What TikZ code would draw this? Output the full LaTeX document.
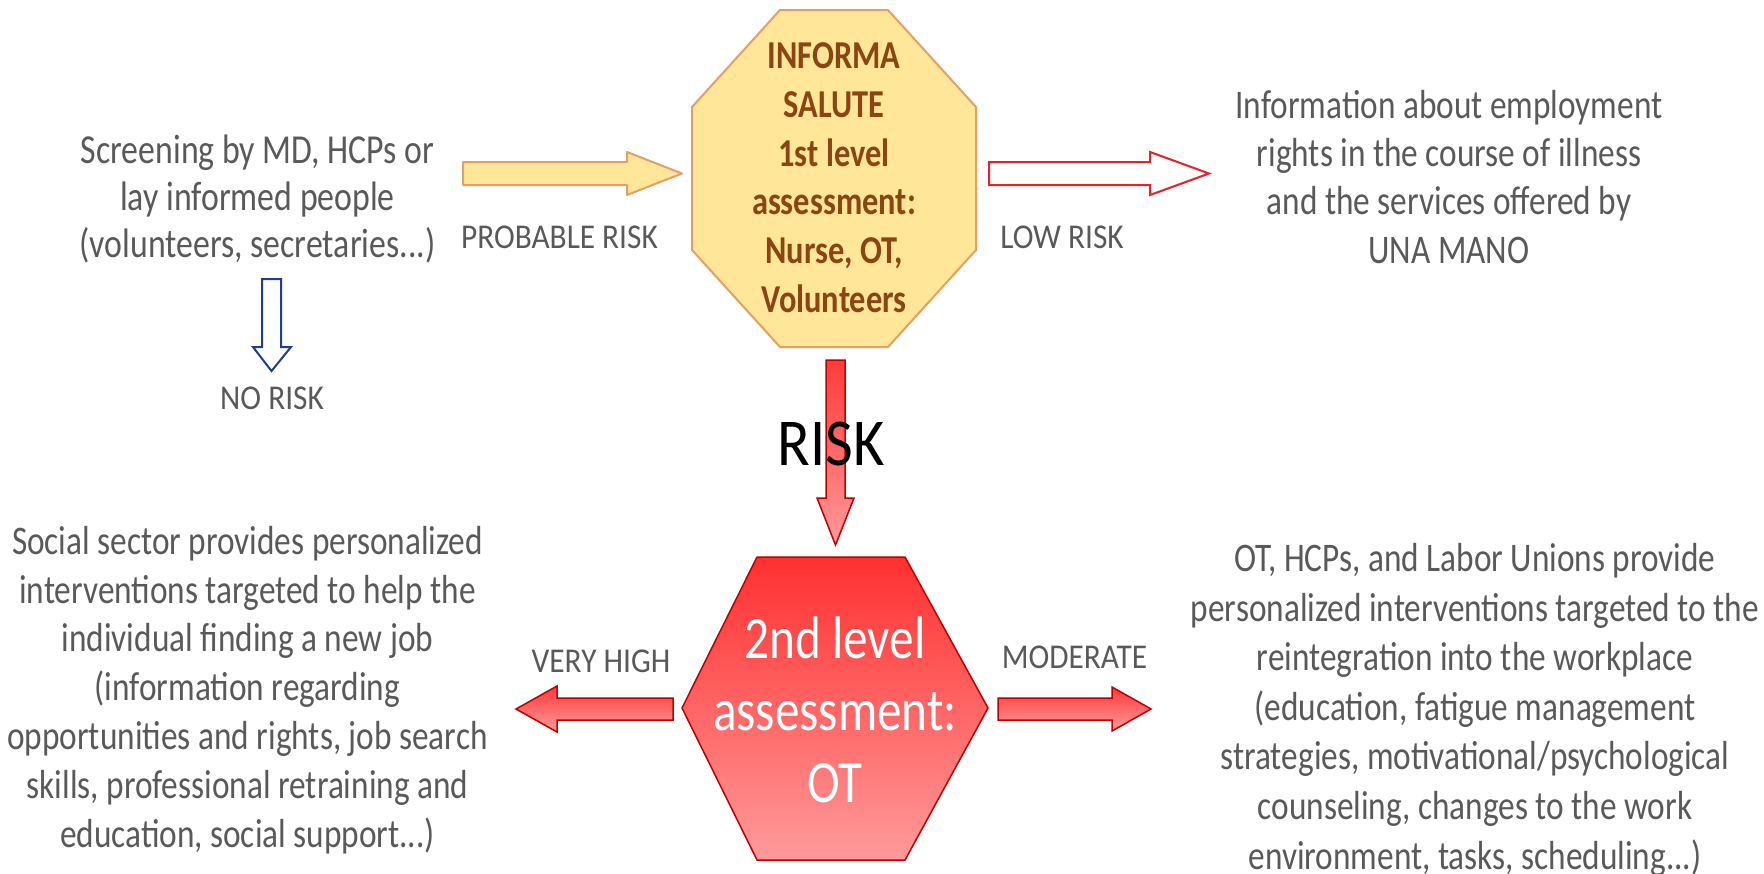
\documentclass[tikz,border=0pt]{standalone}
\usepackage{fontspec}
\setmainfont{Carlito}[FakeStretch=0.9]
\newfontfamily\tallfont{Carlito}[FakeStretch=0.82]
\definecolor{txtgray}{HTML}{595959}
\definecolor{octfill}{HTML}{FFE699}
\definecolor{octdraw}{HTML}{E3A062}
\definecolor{octtext}{HTML}{8A4513}
\definecolor{redtop}{HTML}{FF3030}
\definecolor{redbot}{HTML}{FF9A9A}
\definecolor{redline}{HTML}{C00000}
\definecolor{lowred}{HTML}{E8202A}
\definecolor{noblue}{HTML}{1F3E8C}
\tikzset{
  maintext/.style={anchor=base, align=center, inner sep=0pt, text=txtgray,
    font=\tallfont\fontsize{40.6}{48.8}\selectfont},
  lbl/.style={anchor=base, inner sep=0pt, text=txtgray, font=\fontsize{34.8}{40}\selectfont},
  yellowarrow/.style={fill=octfill, draw=octdraw, line width=2pt, line join=round},
  lowarrow/.style={fill=white, draw=lowred, line width=2pt},
  noarrow/.style={fill=white, draw=noblue, line width=2pt},
  redarrow/.style={top color=redtop!95!white, bottom color=redbot, draw=redline, line width=1.5pt},
}
\begin{document}
\begin{tikzpicture}[x=1pt,y=-1pt]
\useasboundingbox (0,0) rectangle (1764,873);
% octagon (1st level)
\draw[fill=octfill, draw=octdraw, line width=2pt]
  (780,10) -- (888,10) -- (976,107) -- (976,250) -- (888,347) -- (780,347) -- (692,250) -- (692,107) -- cycle;
\node[anchor=base, align=center, inner sep=0pt, text=octtext,
  font=\tallfont\fontsize{39.5}{48.8}\selectfont\bfseries] (first) at (834,312.5)
  {INFORMA\\SALUTE\\1st level\\assessment:\\Nurse, OT,\\Volunteers};
% hexagon (2nd level)
\draw[top color=redtop, bottom color=redbot, draw=redline, line width=1.5pt]
  (757,557) -- (905,557) -- (988,708) -- (905,860) -- (757,860) -- (682,708) -- cycle;
\node[anchor=base, align=center, inner sep=0pt, text=white,
  font=\tallfont\fontsize{60}{72}\selectfont] (second) at (835,802)
  {2nd level\\assessment:\\OT};
% texts
\node[maintext, font=\tallfont\fontsize{41.2}{47}\selectfont] (screen) at (257.5,257) {Screening by MD, HCPs or\\lay informed people\\(volunteers, secretaries...)};
\node[maintext, font=\tallfont\fontsize{40.6}{48.3}\selectfont] (info) at (1449,263) {Information about employment\\rights in the course of illness\\and the services offered by\\UNA MANO};
\node[maintext] (social) at (247.5,847) {Social sector provides personalized\\interventions targeted to help the\\individual finding a new job\\(information regarding\\opportunities and rights, job search\\skills, professional retraining and\\education, social support...)};
\node[maintext, font=\tallfont\fontsize{40.6}{49.6}\selectfont] (reint) at (1475,869) {OT, HCPs, and Labor Unions provide\\personalized interventions targeted to the\\reintegration into the workplace\\(education, fatigue management\\strategies, motivational/psychological\\counseling, changes to the work\\environment, tasks, scheduling...)};
% arrows
\draw[yellowarrow] (463,162) -- (627,162) -- (627,152) -- (682,173.5) -- (627,195) -- (627,185) -- (463,185) -- cycle;
\draw[lowarrow] (989,162) -- (1150,162) -- (1150,152) -- (1209,173.5) -- (1150,195) -- (1150,185) -- (989,185) -- cycle;
\draw[noarrow] (262,279) -- (281,279) -- (281,347) -- (291,347) -- (271.5,371) -- (253,347) -- (262,347) -- cycle;
\draw[redarrow] (826,360) -- (845,360) -- (845,498) -- (854,498) -- (835.5,545) -- (817,498) -- (826,498) -- cycle;
\draw[redarrow] (673,698) -- (557,698) -- (557,686) -- (516,709) -- (557,732) -- (557,720) -- (673,720) -- cycle;
\draw[redarrow] (998,698) -- (1112,698) -- (1112,687) -- (1151,709) -- (1112,731) -- (1112,720) -- (998,720) -- cycle;
% labels
\node[lbl] (probable) at (559.5,248) {PROBABLE RISK};
\node[lbl] (low) at (1062,248) {LOW RISK};
\node[lbl] (norisk) at (272,409) {NO RISK};
\node[lbl] (veryhigh) at (601,672) {VERY HIGH};
\node[lbl] (moderate) at (1074.5,668) {MODERATE};
\node[anchor=base, inner sep=0pt, text=black, font=\fontsize{67}{70}\selectfont] (risk) at (831,465) {RISK};
\end{tikzpicture}
\end{document}
